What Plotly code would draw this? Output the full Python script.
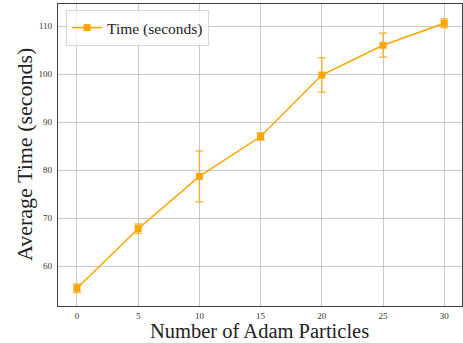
import plotly.graph_objects as go

particles = [0, 5, 10, 15, 20, 25, 30]
avg_time = [55.4, 67.8, 78.7, 87.0, 99.8, 106.0, 110.6]
err_time = [0.9, 1.0, 5.3, 0.8, 3.6, 2.5, 0.95]
series_name = "Time (seconds)"
x_ticks = [0, 5, 10, 15, 20, 25, 30]
y_ticks = [60, 70, 80, 90, 100, 110]
x_title = "Number of Adam Particles"
y_title = "Average Time (seconds)"

FONT = "Liberation Serif"
W, H = 463, 343
ML, MR, MT, MB = 58, 1, 4, 37

fig = go.Figure()
fig.add_trace(go.Scatter(
    x=particles, y=avg_time, name=series_name, mode="lines+markers",
    line=dict(color="#FFA500", width=1.5),
    marker=dict(symbol="square", size=7, color="#FFA500"),
    error_y=dict(type="data", array=err_time, visible=True,
                 color="rgba(255,165,0,0.7)", thickness=1.5, width=4),
    showlegend=True,
))

axis_common = dict(
    showgrid=True, gridcolor="#c8c8c8", gridwidth=1,
    showline=True, linecolor="#404040", linewidth=1.2, mirror=True,
    ticks="",
    tickfont=dict(family=FONT, size=9, color="#333333"),
    zeroline=False, automargin=False,
)

plot_h = H - MT - MB
fig.update_layout(
    width=W, height=H, autosize=False,
    margin=dict(l=ML, r=MR, t=MT, b=MB),
    paper_bgcolor="white", plot_bgcolor="white",
    font=dict(family=FONT, color="#222222"),
    xaxis=dict(range=[-1.55, 31.45], tickvals=x_ticks, ticklabelstandoff=1, **axis_common),
    yaxis=dict(range=[51.7, 114.6], tickvals=y_ticks, ticklabelstandoff=3, **axis_common),
    legend=dict(x=0.02, y=0.98, xanchor="left", yanchor="top",
                bgcolor="rgba(255,255,255,0.8)", bordercolor="#d8d8d8", borderwidth=1,
                font=dict(family=FONT, size=15.5, color="#222222")),
    annotations=[
        dict(text=x_title, xref="paper", yref="paper",
             x=(259 - ML) / (W - ML - MR), y=-(H - 0.5 - (H - MB)) / plot_h,
             xanchor="center", yanchor="bottom", showarrow=False, borderpad=0,
             font=dict(family=FONT, size=20.5, color="#222222")),
        dict(text=y_title, xref="paper", yref="paper", textangle=-90,
             x=-(ML - 24) / (W - ML - MR), y=0.5,
             xanchor="center", yanchor="middle", showarrow=False, borderpad=0,
             font=dict(family=FONT, size=22, color="#222222")),
    ],
)

fig.write_html("out.html", config={"displayModeBar": False},
               post_script="document.body.style.margin='0';document.body.style.overflow='hidden';")
